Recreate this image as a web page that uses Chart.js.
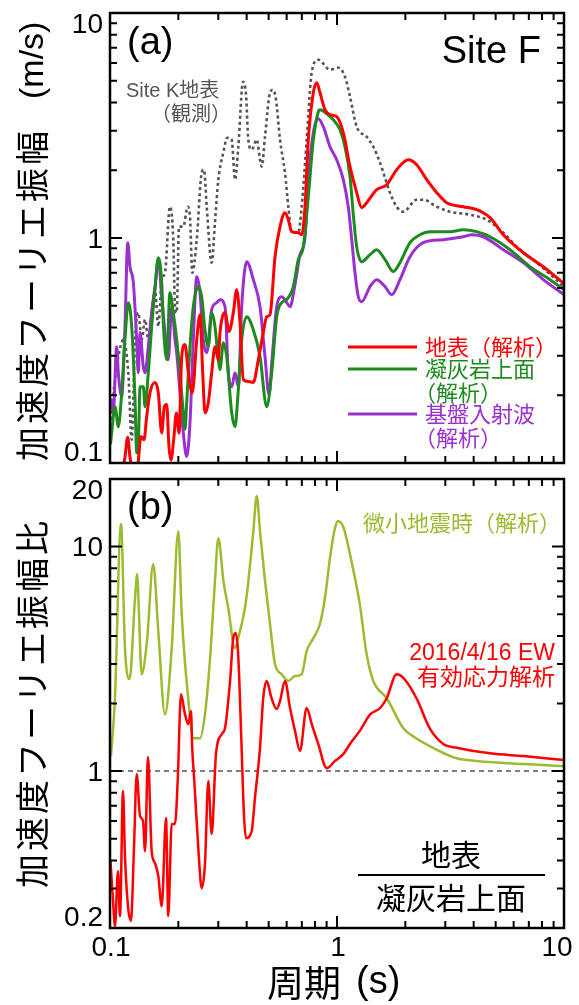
<!DOCTYPE html>
<html>
<head>
<meta charset="utf-8">
<script src="https://cdn.jsdelivr.net/npm/chart.js@4/dist/chart.umd.min.js"></script>
<style>
  html, body { margin: 0; padding: 0; background: #fff; }
  #wrap { position: relative; width: 579px; height: 1005px; }
  canvas { position: absolute; left: 0; }
  #topChart { top: 0; }
  #bottomChart { top: 470px; }
</style>
</head>
<body>
<div id="wrap">
  <canvas id="topChart" width="579" height="470"></canvas>
  <canvas id="bottomChart" width="579" height="535"></canvas>
</div>
<script>
// (a) Fourier amplitude, Site F analysis + Site K observation
const surfacePeriod = [0.1141,0.1164,0.1197,0.1225,0.1263,0.1315,0.1369,0.1412,0.1451,0.150,
  0.1578,0.1632,0.169,0.1735,0.1777,0.1819,0.1856,0.1908,0.196,0.2014,
  0.207,0.214,0.2213,0.2305,0.241,0.2492,0.2561,0.2621,0.271,0.2805,
  0.290,0.300,0.3052,0.3211,0.3345,0.3493,0.3615,0.3739,0.3866,0.4067,
  0.4279,0.4501,0.4735,0.490,0.5068,0.5333,0.561,0.590,0.6103,0.6316,
  0.6753,0.699,0.7228,0.7475,0.7865,0.8142,0.8418,0.8853,0.9316,0.997,
  1.066,1.141,1.221,1.284,1.351,1.496,1.656,1.832,2.061,2.244,
  2.485,2.75,3.043,3.601,4.125,4.721,5.403,6.618,8.103,10];
const surfaceAmp = [0.093,0.106,0.130,0.106,0.093,0.093,0.131,0.127,0.161,0.205,
  0.228,0.205,0.136,0.178,0.182,0.118,0.103,0.127,0.167,0.136,
  0.297,0.336,0.252,0.205,0.353,0.456,0.252,0.167,0.185,0.252,
  0.329,0.288,0.380,0.466,0.384,0.466,0.589,0.420,0.235,0.230,
  0.228,0.288,0.380,0.447,0.456,0.826,1.123,1.296,1.206,1.067,
  1.056,1.034,1.377,2.735,4.424,4.90,4.424,3.717,3.532,3.46,
  2.938,2.075,1.59,1.364,1.435,1.639,1.725,2.012,2.228,2.117,
  1.816,1.59,1.435,1.377,1.336,1.231,1.034,0.860,0.745,0.627];

const tuffPeriod = [0.1005,0.1017,0.1052,0.1088,0.1126,0.1164,0.1204,0.1246,0.1289,0.1311,
  0.1335,0.1356,0.1402,0.1427,0.1475,0.1526,0.1578,0.1632,0.169,0.1717,
  0.1777,0.1837,0.19,0.1967,0.2034,0.2103,0.214,0.2177,0.2251,0.2328,
  0.2449,0.2535,0.2621,0.271,0.2805,0.29,0.30,0.3052,0.3156,0.3267,
  0.3437,0.3554,0.3675,0.3803,0.4002,0.4279,0.458,0.49,0.5157,0.5425,
  0.5706,0.6003,0.6421,0.6753,0.7104,0.7475,0.7865,0.8274,0.8418,0.901,
  0.963,1.031,1.084,1.141,1.18,1.221,1.284,1.398,1.496,1.628,
  1.77,1.894,2.097,2.321,2.569,3.146,3.601,4.125,4.721,5.782,
  7.083,8.677,10];
const tuffAmp = [0.121,0.136,0.178,0.145,0.205,0.353,0.516,0.404,0.191,0.111,
  0.127,0.218,0.218,0.178,0.252,0.404,0.589,0.817,0.633,0.420,
  0.288,0.571,0.466,0.353,0.252,0.167,0.141,0.185,0.329,0.495,
  0.608,0.548,0.391,0.329,0.466,0.404,0.288,0.260,0.342,0.297,
  0.167,0.145,0.212,0.353,0.447,0.391,0.297,0.178,0.252,0.447,
  0.516,0.532,0.608,0.801,0.915,1.526,2.735,3.641,3.717,3.567,
  3.356,3.029,2.545,1.873,1.269,0.915,0.785,0.843,0.887,0.801,
  0.709,0.777,0.953,1.034,1.067,1.067,1.089,1.067,1.013,0.887,
  0.745,0.653,0.589];

const basePeriod = [0.1005,0.1017,0.1034,0.1070,0.1088,0.1126,0.1164,0.1197,0.1225,0.1267,
  0.1311,0.1332,0.1356,0.1402,0.1427,0.1475,0.1526,0.1578,0.1632,0.169,
  0.1747,0.1806,0.187,0.1933,0.1967,0.2034,0.2103,0.2177,0.2251,0.2328,
  0.241,0.2492,0.2576,0.2667,0.2805,0.2951,0.3052,0.3211,0.332,0.3437,
  0.3554,0.3675,0.3803,0.4002,0.4279,0.458,0.4818,0.5017,0.5173,0.5425,
  0.5706,0.6003,0.6209,0.6531,0.6871,0.7228,0.7475,0.7865,0.8274,0.8704,
  0.9316,0.997,1.066,1.121,1.161,1.20,1.241,1.284,1.398,1.496,
  1.628,1.742,1.894,2.097,2.40,2.939,3.601,3.921,4.411,5.403,
  6.618,8.103,10];
const baseAmp = [0.173,0.191,0.167,0.329,0.252,0.197,0.404,0.953,0.745,0.633,
  0.353,0.252,0.380,0.268,0.252,0.329,0.466,0.608,0.801,0.548,
  0.380,0.288,0.495,0.353,0.309,0.205,0.136,0.107,0.151,0.353,
  0.673,0.571,0.353,0.309,0.480,0.516,0.532,0.495,0.252,0.218,
  0.252,0.218,0.495,0.785,0.653,0.495,0.297,0.201,0.288,0.495,
  0.548,0.516,0.495,0.620,0.843,1.003,1.816,2.938,3.391,3.124,
  2.545,2.228,1.816,1.377,0.983,0.701,0.548,0.521,0.608,0.653,
  0.608,0.560,0.653,0.826,0.953,0.983,1.013,1.034,1.013,0.887,
  0.777,0.653,0.560];

const siteKPeriod = [0.1005,0.1017,0.1052,0.1088,0.1144,0.1204,0.1246,0.1289,0.1332,0.1379,
  0.1427,0.1475,0.1526,0.1578,0.1632,0.169,0.1747,0.1837,0.19,0.1933,
  0.1967,0.2014,0.2103,0.2199,0.2251,0.2305,0.241,0.2535,0.2595,0.2667,
  0.2805,0.29,0.30,0.3156,0.3287,0.3437,0.3554,0.3675,0.3855,0.3974,
  0.4067,0.421,0.4429,0.458,0.4659,0.4818,0.5068,0.5226,0.5387,0.561,
  0.59,0.6103,0.6316,0.6753,0.699,0.7355,0.7736,0.8274,0.9316,1.013,
  1.084,1.141,1.221,1.351,1.445,1.547,1.712,1.832,1.96,2.244,
  2.40,2.75,3.146,3.854,4.565,5.403,6.19,7.58,10];
const siteKAmp = [0.156,0.173,0.235,0.297,0.353,0.252,0.127,0.353,0.466,0.353,
  0.434,0.353,0.466,0.589,0.404,0.653,0.701,1.377,0.983,0.495,
  0.466,1.123,1.123,1.377,1.243,0.701,0.983,1.951,2.012,1.377,
  0.777,1.17,1.816,2.394,2.791,2.735,1.816,2.545,4.95,4.335,
  2.735,2.469,2.735,2.228,2.075,2.819,4.424,4.561,4.119,2.735,
  1.951,1.377,1.056,1.056,1.377,2.735,5.43,6.20,5.598,5.714,
  5.212,4.246,3.124,2.819,2.545,2.161,1.59,1.377,1.309,1.48,
  1.48,1.377,1.309,1.269,1.206,1.056,0.915,0.777,0.608];

// (b) spectral ratio surface / tuff top
const quakePeriod = [0.1005,0.1031,0.1052,0.1084,0.1107,0.1141,0.1164,0.120,0.1237,0.1276,
  0.1311,0.1356,0.1398,0.1427,0.147,0.1526,0.1578,0.1632,0.169,0.1765,
  0.1806,0.187,0.1933,0.1987,0.2055,0.214,0.2213,0.2274,0.2302,0.2352,
  0.2449,0.2535,0.262,0.271,0.2805,0.293,0.3105,0.321,0.338,0.349,
  0.358,0.367,0.380,0.389,0.397,0.421,0.435,0.458,0.473,0.490,
  0.515,0.542,0.561,0.590,0.621,0.653,0.687,0.735,0.774,0.827,
  0.901,0.98,1.066,1.14,1.26,1.40,1.55,1.656,1.83,1.96,
  2.24,2.57,2.94,3.37,4.72,6.62,10];
const quakeRatio = [0.397,0.264,0.204,0.358,0.226,0.815,0.418,0.25,0.215,0.463,
  0.97,0.631,0.599,0.44,1.154,0.44,0.389,0.341,0.25,0.618,
  0.226,0.581,0.581,0.903,2.20,1.79,1.62,1.85,1.27,0.903,
  0.454,0.301,0.385,0.903,0.524,1.19,1.46,1.55,2.52,3.91,
  4.12,3.32,1.27,0.643,0.503,0.54,0.758,1.27,2.11,2.52,
  2.11,1.89,2.05,2.52,1.91,1.51,1.23,1.91,1.62,1.32,
  1.03,1.11,1.19,1.32,1.51,1.79,1.91,2.11,2.70,2.60,
  2.11,1.54,1.32,1.27,1.20,1.166,1.12];

const microPeriod = [0.101,0.105,0.1118,0.1164,0.122,0.1289,0.1319,0.1334,0.1379,0.1455,
  0.155,0.1632,0.1747,0.187,0.2,0.207,0.221,0.233,0.249,0.262,
  0.276,0.29,0.30,0.316,0.332,0.355,0.367,0.393,0.407,0.428,
  0.443,0.458,0.482,0.507,0.533,0.571,0.61,0.653,0.699,0.735,
  0.787,0.841,0.885,0.931,0.98,1.01,1.07,1.14,1.26,1.35,
  1.445,1.656,1.96,2.10,2.57,3.37,4.12,6.62,10];
const microRatio = [1.166,2.05,12.6,3.53,2.57,5.90,7.54,5.90,2.70,3.79,
  8.36,4.2,1.79,3.53,11.7,5.0,2.11,1.40,1.40,1.79,
  3.19,7.02,10.9,7.02,5.32,3.53,3.91,5.32,7.02,11.7,
  16.8,11.7,7.02,4.52,3.0,2.70,2.52,2.65,2.70,3.42,
  3.91,4.52,5.9,8.89,12.1,13.0,12.1,9.26,5.54,3.32,
  2.52,2.11,1.55,1.46,1.29,1.14,1.11,1.074,1.053];

const unityLine = [0.1, 10];

const topYLabels = [10, 1, 0.1];
const bottomYLabels = [20, 10, 1, 0.2];
const xLabels = [0.1, 1, 10];

const LATIN = '"Liberation Sans", Arial, "Noto Sans CJK JP", sans-serif';
const CJK = '"Noto Sans CJK JP", "Liberation Sans", sans-serif';
const RED = '#ff0000';
const GREEN = '#1f8a1f';
const PURPLE = '#9b30d0';
const OLIVE = '#9bbb30';
const GRAY = '#555555';

function series(periods, values, color, width, dash) {
  return {
    data: periods.map((p, i) => ({ x: p, y: values[i] })),
    borderColor: color,
    borderWidth: width,
    borderDash: dash || [],
    pointRadius: 0,
    fill: false,
    cubicInterpolationMode: 'monotone'
  };
}

// decade ticks 1..9 x 10^n inside [min, max]
function logTicks(min, max) {
  const out = [];
  for (let d = Math.pow(10, Math.floor(Math.log10(min) + 1e-9)); d < max * 1.0001; d *= 10) {
    for (let k = 1; k < 10; k++) {
      const v = d * k;
      if (v >= min * 0.9999 && v <= max * 1.0001) out.push({ v: v, major: k === 1 });
    }
  }
  return out;
}

function drawAxes(chart, yLabels) {
  const { ctx, chartArea: a, scales: { x, y } } = chart;
  ctx.save();
  ctx.strokeStyle = '#000';
  ctx.lineWidth = 2;
  ctx.beginPath();
  logTicks(0.1, 10).forEach(t => {
    const px = x.getPixelForValue(t.v);
    const len = t.major ? 12 : 7;
    ctx.moveTo(px, a.bottom); ctx.lineTo(px, a.bottom - len);
    ctx.moveTo(px, a.top); ctx.lineTo(px, a.top + len);
  });
  logTicks(y.min, y.max).forEach(t => {
    const py = y.getPixelForValue(t.v);
    const len = t.major ? 12 : 7;
    ctx.moveTo(a.left, py); ctx.lineTo(a.left + len, py);
    ctx.moveTo(a.right, py); ctx.lineTo(a.right - len, py);
  });
  ctx.stroke();
  ctx.lineWidth = 2.5;
  ctx.strokeRect(a.left, a.top, a.right - a.left, a.bottom - a.top);

  ctx.fillStyle = '#000';
  ctx.font = '28px ' + LATIN;
  ctx.textAlign = 'right';
  ctx.textBaseline = 'middle';
  yLabels.forEach(v => {
    const py = Math.min(Math.max(y.getPixelForValue(v) + 2, a.top + 12), a.bottom - 10);
    ctx.fillText(String(v), 103, py);
  });
  ctx.restore();
}

function verticalTitle(ctx, cx, startY, cjkText, latinText, latinStartY) {
  ctx.save();
  ctx.translate(cx, 0);
  ctx.rotate(-Math.PI / 2);
  ctx.fillStyle = '#000';
  ctx.textAlign = 'left';
  ctx.textBaseline = 'middle';
  ctx.font = '34px ' + CJK;
  ctx.letterSpacing = '3px';
  ctx.fillText(cjkText, -startY, 0);
  if (latinText) {
    ctx.letterSpacing = '0px';
    ctx.font = '34px ' + LATIN;
    ctx.fillText(latinText, -latinStartY, 2);
  }
  ctx.restore();
}

const topDecor = {
  id: 'topDecor',
  afterDraw(chart) {
    const ctx = chart.ctx;
    drawAxes(chart, topYLabels);
    ctx.save();
    ctx.fillStyle = '#000';
    ctx.textBaseline = 'alphabetic';
    ctx.font = '38px ' + LATIN;
    ctx.textAlign = 'left';
    ctx.fillText('(a)', 127, 54);
    ctx.textAlign = 'right';
    ctx.fillText('Site F', 541, 63);

    ctx.fillStyle = GRAY;
    ctx.textAlign = 'left';
    ctx.font = '20px ' + LATIN;
    ctx.fillText('Site K地表', 126, 97);
    ctx.font = '20px ' + CJK;
    ctx.fillText('（観測）', 151, 121);

    // legend
    const rows = [
      { color: RED, y: 347, lines: [['地表（解析）', 425]] },
      { color: GREEN, y: 369, lines: [['凝灰岩上面', 425], ['（解析）', 414]] },
      { color: PURPLE, y: 414, lines: [['基盤入射波', 425], ['（解析）', 414]] }
    ];
    ctx.lineWidth = 3;
    ctx.font = '22px ' + CJK;
    ctx.textBaseline = 'middle';
    rows.forEach(r => {
      ctx.strokeStyle = r.color;
      ctx.beginPath();
      ctx.moveTo(348, r.y); ctx.lineTo(417, r.y);
      ctx.stroke();
      ctx.fillStyle = r.color;
      r.lines.forEach((l, i) => ctx.fillText(l[0], l[1], r.y + i * 24));
    });
    ctx.restore();

    verticalTitle(ctx, 32, 461, '加速度フーリエ振幅', '(m/s)', 99);
  }
};

const bottomDecor = {
  id: 'bottomDecor',
  afterDraw(chart) {
    const { ctx, chartArea: a, scales: { x } } = chart;
    drawAxes(chart, bottomYLabels);
    ctx.save();
    ctx.fillStyle = '#000';
    ctx.font = '38px ' + LATIN;
    ctx.textAlign = 'left';
    ctx.textBaseline = 'alphabetic';
    ctx.fillText('(b)', 127, 49);

    ctx.font = '22px ' + CJK;
    ctx.textAlign = 'right';
    ctx.textBaseline = 'middle';
    ctx.fillStyle = OLIVE;
    ctx.fillText('微小地震時（解析）', 561, 53);

    ctx.fillStyle = RED;
    ctx.font = '23px ' + LATIN;
    ctx.textBaseline = 'alphabetic';
    ctx.fillText('2016/4/16 EW', 555, 190);
    ctx.font = '23px ' + CJK;
    ctx.textBaseline = 'middle';
    ctx.fillText('有効応力解析', 555, 206);

    // ratio label
    ctx.fillStyle = '#000';
    ctx.textAlign = 'center';
    ctx.font = '30px ' + CJK;
    ctx.fillText('地表', 451, 385);
    ctx.fillText('凝灰岩上面', 451, 428);
    ctx.strokeStyle = '#000';
    ctx.lineWidth = 2;
    ctx.beginPath();
    ctx.moveTo(358, 405); ctx.lineTo(545, 405);
    ctx.stroke();

    // x tick labels
    ctx.font = '28px ' + LATIN;
    ctx.textAlign = 'center';
    xLabels.forEach(v => {
      const px = Math.min(x.getPixelForValue(v) + 1, a.right - 7);
      ctx.fillText(String(v), px, a.bottom + 20);
    });

    // x title
    ctx.textAlign = 'left';
    ctx.font = '37px ' + CJK;
    ctx.fillText('周期', 267, 513);
    ctx.font = '38px ' + LATIN;
    ctx.textBaseline = 'alphabetic';
    ctx.fillText('(s)', 356, 523);
    ctx.restore();

    verticalTitle(ctx, 32, 418, '加速度フーリエ振幅比');
  }
};

const baseOptions = (padding, yMin, yMax) => ({
  responsive: false,
  animation: false,
  devicePixelRatio: 1,
  layout: { padding: padding },
  scales: {
    x: { type: 'logarithmic', min: 0.1, max: 10, display: false },
    y: { type: 'logarithmic', min: yMin, max: yMax, display: false }
  },
  plugins: { legend: { display: false }, tooltip: { enabled: false } },
  elements: { line: { borderJoinStyle: 'round', borderCapStyle: 'butt' } }
});

new Chart(document.getElementById('topChart'), {
  type: 'line',
  data: {
    datasets: [
      series(surfacePeriod, surfaceAmp, RED, 3),
      series(tuffPeriod, tuffAmp, GREEN, 3),
      series(basePeriod, baseAmp, PURPLE, 3),
      series(siteKPeriod, siteKAmp, GRAY, 2.6, [3, 3])
    ]
  },
  options: baseOptions({ left: 110, right: 15, top: 13, bottom: 7 }, 0.1, 10),
  plugins: [topDecor]
});

new Chart(document.getElementById('bottomChart'), {
  type: 'line',
  data: {
    datasets: [
      series(quakePeriod, quakeRatio, RED, 2.5),
      series(microPeriod, microRatio, OLIVE, 2.5),
      series(unityLine, [1, 1], GRAY, 1.5, [5, 4])
    ]
  },
  options: baseOptions({ left: 110, right: 15, top: 9, bottom: 77 }, 0.2, 20),
  plugins: [bottomDecor]
});
</script>
</body>
</html>
